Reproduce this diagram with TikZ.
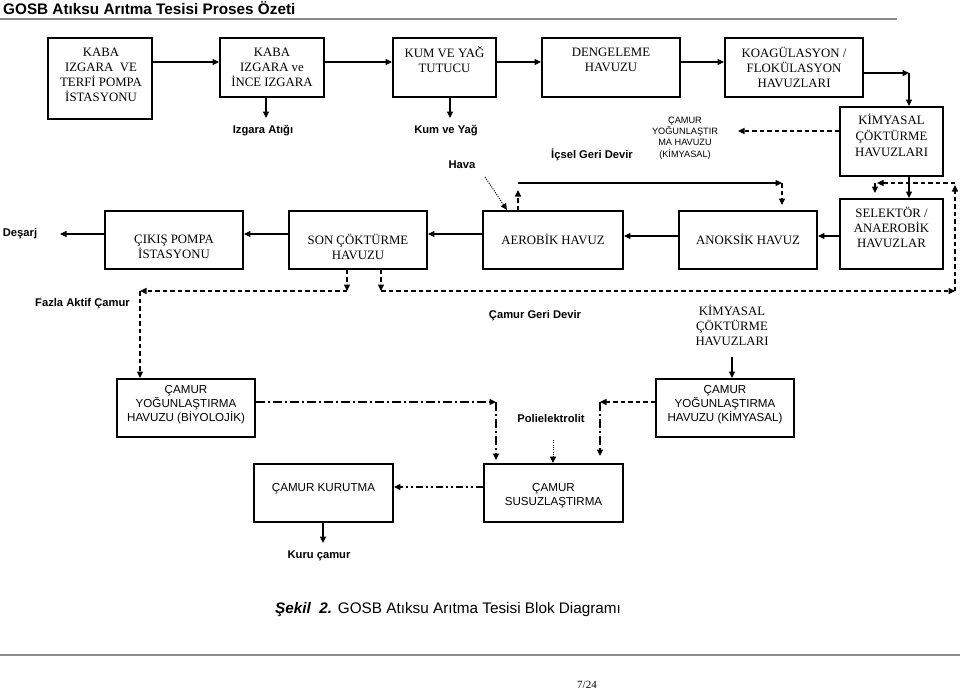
\documentclass[tikz,border=0pt]{standalone}
\usepackage{fontspec}
\setmainfont{Liberation Serif}
\setsansfont{Liberation Sans}
\usetikzlibrary{arrows.meta}
\begin{document}
\begin{tikzpicture}[x=1pt,y=-1pt,
 box/.style={draw,line width=1.9pt,inner sep=0pt},
 stxt/.style={font=\fontsize{12.8}{15}\selectfont,align=center,inner sep=0pt},
 atxt/.style={font=\sffamily\fontsize{11.6}{14}\selectfont,align=center,inner sep=0pt},
 lbl/.style={font=\sffamily\bfseries\fontsize{11.2}{13}\selectfont,inner sep=0pt},
 conn/.style={line width=1.2pt,-{Triangle[length=6.5pt,width=6pt]}},
 cline/.style={line width=1.2pt},
 dsh/.style={dash pattern=on 4.5pt off 3pt},
 dd/.style={dash pattern=on 9pt off 3pt on 2pt off 3pt},
 ddd/.style={dash pattern=on 7pt off 3pt on 2pt off 3pt on 2pt off 3pt},
 dotln/.style={dash pattern=on 1pt off 1.3pt,line width=1pt},
]
\fill[white] (0,0) rectangle (960,691);
\useasboundingbox (0,0) rectangle (960,691);

% title and rules
\node[anchor=base west,font=\sffamily\bfseries\fontsize{15.3}{18}\selectfont,inner sep=0pt] (title) at (3,14.5) {GOSB Atıksu Arıtma Tesisi Proses Özeti};
\draw[black!45,line width=1.5pt] (0,19) -- (897,19);
\draw[black!45,line width=1.5pt] (0,655) -- (960,655);

% helper levels
\coordinate (y62) at (0,62);
\coordinate (y73) at (0,73);
\coordinate (y131) at (0,131);
\coordinate (y236) at (0,236);
\coordinate (y234) at (0,234);
\coordinate (y402) at (0,402);
\coordinate (y487) at (0,487);

% row 1 boxes
\node[box,minimum width=104,minimum height=81] (b1) at (100,78.5) {};
\node[stxt] (b1t) at (101,74.5) {KABA\\IZGARA~~VE\\TERFİ POMPA\\İSTASYONU};
\node[box,minimum width=104,minimum height=59] (b2) at (272,67.5) {};
\node[stxt] (b2t) at (272,67) {KABA\\IZGARA ve\\İNCE IZGARA};
\node[box,minimum width=103,minimum height=59] (b3) at (444.5,67.5) {};
\node[stxt] (b3t) at (444.5,59.5) {KUM VE YAĞ\\TUTUCU};
\node[box,minimum width=138,minimum height=59] (b4) at (611,67.5) {};
\node[stxt] (b4t) at (611,59.5) {DENGELEME\\HAVUZU};
\node[box,minimum width=138,minimum height=59] (b5) at (794,67.5) {};
\node[stxt] (b5t) at (794,67) {KOAGÜLASYON /\\FLOKÜLASYON\\HAVUZLARI};

\draw[conn] (b1.east|-y62) -- (b2.west|-y62);
\draw[conn] (b2.east|-y62) -- (b3.west|-y62);
\draw[conn] (b3.east|-y62) -- (b4.west|-y62);
\draw[conn] (b4.east|-y62) -- (b5.west|-y62);

% kimyasal cokturme (upper)
\node[box,minimum width=103,minimum height=69] (k1) at (891.5,141.5) {};
\node[stxt,font=\fontsize{12.8}{16}\selectfont] (k1t) at (891.5,135) {KİMYASAL\\ÇÖKTÜRME\\HAVUZLARI};
\coordinate (kc) at (909,73);
\draw[conn] (b5.east|-y73) -- (kc);
\draw[conn] (kc) -- (kc|-k1.north);

% waste outputs
\coordinate (a1) at (266,118);
\coordinate (a2) at (450,118);
\draw[conn] (b2.south-|a1) -- (a1);
\draw[conn] (b3.south-|a2) -- (a2);
\node[lbl] (izg) at (263,131) {Izgara Atığı};
\node[lbl] (kum) at (446,131) {Kum ve Yağ};
\node[lbl] (hava) at (462,165) {Hava};

% small sludge text
\node[font=\sffamily\fontsize{9.2}{11.2}\selectfont,align=center,inner sep=0pt] (smt) at (685,138) {ÇAMUR\\YOĞUNLAŞTIR\\MA HAVUZU\\(KİMYASAL)};
\coordinate (sm1) at (738,131);
\draw[conn,dsh] (k1.west|-y131) -- (sm1);
\node[lbl] (icsel) at (592,155) {İçsel Geri Devir};

% row 2 boxes
\node[box,minimum width=138,minimum height=58] (c1) at (174,240) {};
\node[stxt] (c1t) at (174,246.5) {ÇIKIŞ POMPA\\İSTASYONU};
\node[box,minimum width=138,minimum height=58] (c2) at (358,240) {};
\node[stxt] (c2t) at (358,246.5) {SON ÇÖKTÜRME\\HAVUZU};
\node[box,minimum width=140,minimum height=58] (c3) at (553,240) {};
\node[stxt] (c3t) at (553,239) {AEROBİK HAVUZ};
\node[box,minimum width=138,minimum height=58] (c4) at (748,240) {};
\node[stxt] (c4t) at (748,239) {ANOKSİK HAVUZ};
\node[box,minimum width=103,minimum height=70] (c5) at (891.5,234) {};
\node[stxt] (c5t) at (891.5,227) {SELEKTÖR /\\ANAEROBİK\\HAVUZLAR};

\draw[conn] (k1.south-|kc) -- (c5.north-|kc);
\draw[conn] (c5.west|-y236) -- (c4.east|-y236);
\draw[conn] (c4.west|-y236) -- (c3.east|-y236);
\draw[conn] (c3.west|-y234) -- (c2.east|-y234);
\draw[conn] (c2.west|-y234) -- (c1.east|-y234);
\node[lbl] (desarj) at (20,234) {Deşarj};
\coordinate (ds) at (60,234);
\draw[conn] (c1.west|-y234) -- (ds);

% hava dotted
\coordinate (hv1) at (485,177);
\coordinate (hv2) at (507,210);
\draw[conn,dotln] (hv1) -- (hv2);

% icsel geri devir
\coordinate (ia) at (518,190);
\coordinate (ib) at (518,183);
\coordinate (ic) at (782,183);
\coordinate (id) at (782,205);
\draw[conn,dsh] (c3.north-|ia) -- (ia);
\draw[conn] (ib) -- (ic);
\draw[conn,dsh] (ic) -- (id);

% camur geri devir loop
\coordinate (g1) at (381,291);
\coordinate (g2) at (955,291);
\coordinate (g3) at (955,185);
\coordinate (g4) at (955,183);
\coordinate (g5) at (877,183);
\coordinate (g6) at (875,193);
\draw[conn,dsh] (c2.south-|g1) -- (g1);
\draw[conn,dsh] (g1) -- (g2);
\draw[conn,dsh] (g2) -- (g3);
\draw[conn,dsh] (g4) -- (g5);
\draw[conn,dsh] (g6|-g5) -- (g6);
\node[lbl] (cgd) at (535,316) {Çamur Geri Devir};

% fazla aktif camur
\coordinate (f1) at (347,291);
\coordinate (f2) at (140,291);
\draw[conn,dsh] (c2.south-|f1) -- (f1);
\draw[conn,dsh] (f1) -- (f2);
\node[lbl] (fac) at (82.5,304) {Fazla Aktif Çamur};

% lower section
\node[box,minimum width=138,minimum height=58] (d1) at (186,408) {};
\node[atxt] (d1t) at (186,405) {ÇAMUR\\YOĞUNLAŞTIRMA\\HAVUZU (BİYOLOJİK)};
\node[box,minimum width=138,minimum height=58] (d2) at (725,408) {};
\node[atxt] (d2t) at (725,405) {ÇAMUR\\YOĞUNLAŞTIRMA\\HAVUZU (KİMYASAL)};
\node[box,minimum width=139,minimum height=58] (e1) at (323.5,493) {};
\node[atxt] (e1t) at (323.5,489) {ÇAMUR KURUTMA};
\node[box,minimum width=139,minimum height=58] (e2) at (553.5,493) {};
\node[atxt] (e2t) at (553.5,496) {ÇAMUR\\SUSUZLAŞTIRMA};

\draw[conn,dsh] (f2) -- (d1.north-|f2);

\node[stxt] (kt) at (732,325) {KİMYASAL\\ÇÖKTÜRME\\HAVUZLARI};
\coordinate (kt1) at (732,357);
\draw[conn] (kt1) -- (d2.north-|kt1);

\coordinate (h1) at (496,402);
\coordinate (h2) at (496,460);
\draw[conn,dd] (d1.east|-y402) -- (h1);
\draw[conn,dd] (h1) -- (h2);

\coordinate (j1) at (600,402);
\coordinate (j2) at (600,456);
\draw[conn,dsh] (d2.west|-y402) -- (j1);
\draw[conn,dd] (j1) -- (j2);

\node[lbl] (pol) at (551,418) {Polielektrolit};
\coordinate (p1) at (553,440);
\coordinate (p2) at (553,463);
\draw[conn,dotln] (p1) -- (p2);

\draw[conn,ddd] (e2.west|-y487) -- (e1.east|-y487);

\coordinate (q1) at (323,543);
\draw[conn] (e1.south-|q1) -- (q1);
\node[lbl] (kuru) at (319,556) {Kuru çamur};

% caption and page number
\node[anchor=west,font=\sffamily\fontsize{15.3}{18}\selectfont,inner sep=0pt] (cap) at (275,610) {\textbf{\textit{Şekil~~2.}} GOSB Atıksu Arıtma Tesisi Blok Diagramı};
\node[font=\fontsize{11}{13}\selectfont,inner sep=0pt] (pg) at (587,685) {7/24};
\end{tikzpicture}
\end{document}
